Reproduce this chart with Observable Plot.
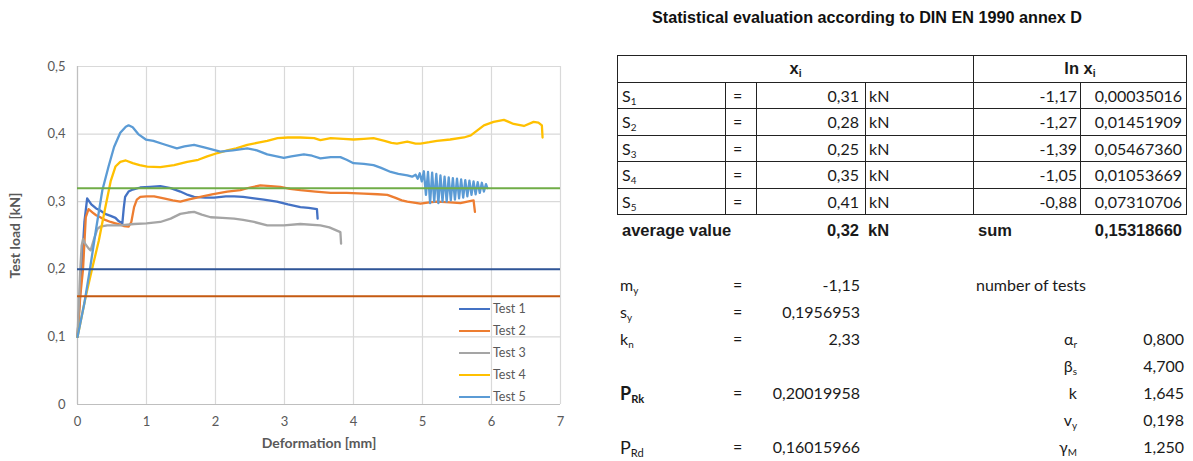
<!DOCTYPE html>
<html><head><meta charset="utf-8">
<script src="https://cdn.jsdelivr.net/npm/d3@7"></script>
<script src="https://cdn.jsdelivr.net/npm/@observablehq/plot@0.6"></script>
<style>
body{margin:0;background:#fff;width:1193px;height:461px;overflow:hidden;position:relative;font-family:Lato,"Open Sans",sans-serif;color:#1a1a1a;}
#chart{position:absolute;left:0;top:0;}
#legend{position:absolute;left:459px;top:298px;font-family:Lato,sans-serif;font-size:12.5px;color:#595959;}
#legend .item{height:22px;line-height:22px;white-space:nowrap;position:relative;}
#legend .sw{display:inline-block;width:31px;height:0;border-top:2.5px solid;vertical-align:middle;margin-right:3px;position:relative;top:-1px;}
#title{position:absolute;left:600px;width:534px;top:8px;text-align:center;font-family:"Liberation Sans",Arial,sans-serif;font-weight:bold;font-size:16.2px;color:#111;}
table{position:absolute;left:617px;border-collapse:collapse;table-layout:fixed;font-size:16px;}
table td{padding:0;white-space:nowrap;overflow:visible;}
#t1{top:55px;}
#t1 td{border:1.5px solid #222;height:25.5px;}
#t2{top:217px;}
#t2 td{height:27px;border:none;}
.r{text-align:right;}
.b{font-weight:bold;font-family:"Liberation Sans",Arial,sans-serif;font-size:16.5px;}
sub{font-size:0.62em;vertical-align:-0.3em;line-height:0;}
</style></head><body>
<div id="chart"></div>
<div id="legend"></div>
<div id="title">Statistical evaluation according to DIN EN 1990 annex D</div>
<table id="t1"></table>
<table id="t2"></table>
<script>
// ---------- chart data ----------
const testNames = ["Test 1", "Test 2", "Test 3", "Test 4", "Test 5"];
const testColors = ["#4472C4", "#ED7D31", "#A5A5A5", "#FFC000", "#5B9BD5"];
const xTicks = [0, 1, 2, 3, 4, 5, 6, 7];
const yTicks = [0, 0.1, 0.2, 0.3, 0.4, 0.5];

const test1 = [[0,0.1],[0.06,0.2],[0.1,0.27],[0.14,0.305],[0.2,0.296],[0.27,0.29],[0.33,0.287],[0.4,0.282],[0.48,0.279],[0.55,0.276],[0.6,0.271],[0.65,0.268],[0.67,0.29],[0.69,0.307],[0.74,0.315],[0.8,0.318],[0.91,0.321],[1.05,0.322],[1.2,0.323],[1.35,0.32],[1.49,0.315],[1.6,0.31],[1.69,0.307],[1.85,0.306],[1.98,0.306],[2.15,0.308],[2.27,0.308],[2.4,0.307],[2.56,0.305],[2.7,0.303],[2.89,0.3],[3.05,0.296],[3.23,0.292],[3.35,0.291],[3.47,0.289],[3.48,0.275]];
const test2 = [[0,0.1],[0.04,0.16],[0.08,0.2],[0.12,0.277],[0.16,0.289],[0.22,0.284],[0.27,0.28],[0.33,0.277],[0.4,0.273],[0.48,0.27],[0.55,0.268],[0.62,0.266],[0.67,0.264],[0.74,0.263],[0.78,0.27],[0.82,0.292],[0.86,0.303],[0.91,0.307],[1.0,0.308],[1.11,0.308],[1.25,0.305],[1.38,0.302],[1.49,0.3],[1.6,0.303],[1.78,0.307],[1.95,0.311],[2.17,0.315],[2.36,0.317],[2.5,0.321],[2.65,0.324],[2.8,0.323],[2.94,0.322],[3.08,0.319],[3.23,0.317],[3.45,0.315],[3.67,0.313],[3.9,0.313],[4.15,0.312],[4.35,0.311],[4.49,0.31],[4.6,0.306],[4.7,0.302],[4.78,0.3],[4.97,0.297],[5.1,0.299],[5.21,0.3],[5.4,0.299],[5.55,0.298],[5.65,0.3],[5.74,0.302],[5.76,0.285]];
const test3 = [[0,0.1],[0.02,0.15],[0.04,0.2],[0.06,0.235],[0.08,0.245],[0.11,0.238],[0.16,0.231],[0.19,0.228],[0.24,0.245],[0.29,0.26],[0.33,0.263],[0.43,0.265],[0.62,0.265],[0.82,0.267],[1.0,0.268],[1.2,0.27],[1.35,0.275],[1.49,0.282],[1.6,0.284],[1.69,0.285],[1.8,0.281],[1.93,0.277],[2.1,0.276],[2.27,0.275],[2.4,0.273],[2.56,0.27],[2.75,0.265],[2.99,0.265],[3.23,0.267],[3.52,0.265],[3.65,0.262],[3.81,0.255],[3.82,0.238]];
const test4 = [[0,0.1],[0.12,0.16],[0.21,0.2],[0.31,0.243],[0.4,0.29],[0.48,0.33],[0.55,0.352],[0.62,0.359],[0.7,0.361],[0.8,0.357],[0.9,0.354],[1.01,0.352],[1.2,0.351],[1.4,0.354],[1.59,0.359],[1.75,0.362],[1.88,0.367],[2.03,0.372],[2.17,0.376],[2.3,0.379],[2.46,0.384],[2.6,0.387],[2.75,0.39],[2.9,0.394],[3.05,0.395],[3.23,0.395],[3.43,0.394],[3.52,0.391],[3.67,0.394],[3.85,0.393],[4.0,0.392],[4.15,0.393],[4.29,0.394],[4.45,0.39],[4.55,0.387],[4.63,0.386],[4.78,0.389],[4.9,0.386],[4.97,0.386],[5.1,0.388],[5.21,0.39],[5.4,0.392],[5.6,0.395],[5.7,0.398],[5.8,0.406],[5.89,0.413],[6.03,0.418],[6.18,0.421],[6.25,0.418],[6.32,0.415],[6.47,0.412],[6.61,0.418],[6.68,0.417],[6.73,0.413],[6.74,0.395]];
const test5 = [[0,0.1],[0.1,0.15],[0.18,0.2],[0.27,0.26],[0.36,0.317],[0.45,0.352],[0.53,0.381],[0.62,0.402],[0.7,0.411],[0.74,0.413],[0.8,0.41],[0.88,0.4],[0.99,0.392],[1.1,0.39],[1.25,0.385],[1.44,0.379],[1.55,0.382],[1.69,0.384],[1.85,0.38],[2.07,0.374],[2.25,0.376],[2.46,0.379],[2.6,0.376],[2.75,0.37],[2.99,0.365],[3.1,0.367],[3.28,0.37],[3.4,0.368],[3.52,0.364],[3.67,0.366],[3.81,0.366],[3.9,0.362],[4.0,0.357],[4.15,0.356],[4.29,0.354],[4.4,0.35],[4.54,0.344],[4.65,0.341],[4.78,0.339],[4.85,0.337],[4.9,0.34],[4.93,0.334],[4.96,0.342],[4.99,0.33],[5.02,0.345],[5.05,0.31],[5.08,0.344],[5.11,0.298],[5.14,0.343],[5.17,0.3],[5.2,0.341],[5.23,0.298],[5.26,0.339],[5.29,0.3],[5.32,0.337],[5.35,0.3],[5.38,0.336],[5.41,0.302],[5.44,0.335],[5.47,0.303],[5.5,0.334],[5.53,0.305],[5.56,0.333],[5.59,0.306],[5.62,0.332],[5.65,0.308],[5.68,0.331],[5.71,0.31],[5.74,0.33],[5.77,0.311],[5.8,0.329],[5.83,0.313],[5.86,0.328],[5.89,0.315],[5.92,0.326],[5.94,0.32]];

// horizontal reference levels: average value, P_Rk, P_Rd
const refNames = ["average value", "P_Rk", "P_Rd"];
const refValues = [0.32, 0.20019958, 0.16015966];
const refColors = ["#70AD47", "#2F5597", "#C55A11"];

// ---------- table data ----------
const sampleLabels = ["1", "2", "3", "4", "5"];
const xiValues = ["0,31", "0,28", "0,25", "0,35", "0,41"];
const lnValues = ["-1,17", "-1,27", "-1,39", "-1,05", "-0,88"];
const sqValues = ["0,00035016", "0,01451909", "0,05467360", "0,01053669", "0,07310706"];
const averageValue = "0,32";
const sumValue = "0,15318660";
const leftParams = [
  ["m<sub>y</sub>", "-1,15"],
  ["s<sub>y</sub>", "0,1956953"],
  ["k<sub>n</sub>", "2,33"],
  ["", ""],
  ["<span style='font-size:18px;font-weight:bold'>P<sub>Rk</sub></span>", "0,20019958"],
  ["", ""],
  ["<span style='font-size:18px'>P<sub>Rd</sub></span>", "0,16015966"]
];
const rightParams = [
  ["", ""],
  ["", ""],
  ["α<sub>r</sub>", "0,800"],
  ["β<sub>s</sub>", "4,700"],
  ["k", "1,645"],
  ["v<sub>y</sub>", "0,198"],
  ["γ<sub>M</sub>", "1,250"]
];

// ---------- chart ----------
const series = [test1, test2, test3, test4, test5];
const rows = series.flatMap((pts, i) => pts.map(([x, y]) => ({test: testNames[i], x, y})));
const refs = refValues.map((v, i) => ({name: refNames[i], value: v, color: refColors[i]}));
const fmt = d => d === 0 ? "0" : d3.format(".1f")(d).replace(".", ",");

const chart = Plot.plot({
  width: 590, height: 461,
  marginLeft: 77, marginRight: 30, marginTop: 66, marginBottom: 57,
  style: {fontFamily: "Lato, sans-serif", fontSize: "13px", color: "#595959", background: "transparent"},
  x: {domain: [0, 7], ticks: xTicks},
  y: {domain: [0, 0.5], ticks: yTicks},
  color: {domain: testNames, range: testColors},
  marks: [
    Plot.gridX(xTicks, {stroke: "#d9d9d9", strokeOpacity: 1, strokeWidth: 1.2}),
    Plot.gridY(yTicks, {stroke: "#d9d9d9", strokeOpacity: 1, strokeWidth: 1.2}),
    Plot.axisX(xTicks, {tickSize: 0, tickPadding: 12, tickFormat: d => String(d), fill: "#595959",
      label: "Deformation [mm]", labelAnchor: "center", labelArrow: "none", labelOffset: 43}),
    Plot.axisY(yTicks, {tickSize: 0, tickPadding: 12, tickFormat: fmt, fill: "#595959",
      label: "Test load [kN]", labelAnchor: "center", labelArrow: "none", labelOffset: 67}),
    Plot.ruleX([0], {stroke: "#bfbfbf", strokeWidth: 1.2}),
    Plot.ruleY([0], {stroke: "#bfbfbf", strokeWidth: 1.2}),
    Plot.line(rows, {x: "x", y: "y", z: "test", stroke: "test", strokeWidth: 2.3, strokeLinejoin: "round"}),
    Plot.ruleY(refs, {y: "value", stroke: "color", strokeWidth: 2})
  ]
});
d3.select(chart).selectAll('g[aria-label$="axis label"]').attr("font-weight", "bold").attr("font-size", "14px");
document.getElementById("chart").appendChild(chart);

// legend
const legend = d3.select("#legend");
testNames.forEach((n, i) => {
  const it = legend.append("div").attr("class", "item");
  it.append("span").attr("class", "sw").style("border-top-color", testColors[i]);
  it.append("span").text(n);
});

// ---------- tables ----------
const colW = [108, 31, 109, 108, 107, 106];
function colgroup(t){ t.insertAdjacentHTML("afterbegin", "<colgroup>" + colW.map(w => `<col style="width:${w}px">`).join("") + "</colgroup>"); }
const t1 = document.getElementById("t1");
colgroup(t1);
let h = `<tr><td colspan="4" style="text-align:center" class="b">x<sub>i</sub></td><td colspan="2" style="text-align:center" class="b">ln x<sub>i</sub></td></tr>`;
sampleLabels.forEach((s, i) => {
  h += `<tr><td style="padding-left:4px">S<sub>${s}</sub></td><td style="padding-left:7px">=</td>` +
       `<td class="r" style="padding-right:6px">${xiValues[i]}</td><td style="padding-left:3px">kN</td>` +
       `<td class="r" style="padding-right:3px">${lnValues[i]}</td><td class="r" style="padding-right:4px">${sqValues[i]}</td></tr>`;
});
t1.insertAdjacentHTML("beforeend", h);

const t2 = document.getElementById("t2");
colgroup(t2);
let h2 = `<tr><td colspan="2" class="b" style="padding-left:5px">average value</td><td class="r b" style="padding-right:6px">${averageValue}</td><td class="b" style="padding-left:3px">kN</td>` +
         `<td class="b" style="padding-left:5px">sum</td><td class="r b" style="padding-right:4px">${sumValue}</td></tr>`;
h2 += `<tr><td colspan="6"></td></tr>`;
leftParams.forEach((p, i) => {
  const r = rightParams[i];
  const eq = p[0] ? "=" : "";
  const right = i === 0
    ? `<td colspan="2" style="padding-left:3px">number of tests</td>`
    : `<td class="r" style="padding-right:3px">${r[0]}</td><td class="r" style="padding-right:2px">${r[1]}</td>`;
  h2 += `<tr><td style="padding-left:3px">${p[0]}</td><td style="padding-left:8px">${eq}</td><td class="r" style="padding-right:5px">${p[1]}</td><td></td>${right}</tr>`;
});
t2.insertAdjacentHTML("beforeend", h2);
</script>
</body></html>
